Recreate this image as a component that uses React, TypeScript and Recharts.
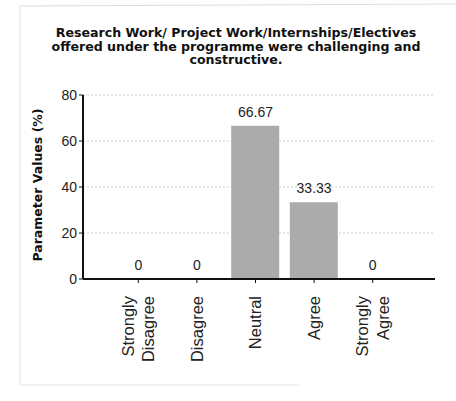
import React from "react";
import { ComposedChart, Bar, Line, XAxis, YAxis, CartesianGrid, LabelList } from "recharts";

const categories = ["Strongly Disagree", "Disagree", "Neutral", "Agree", "Strongly Agree"];
const values = [0, 0, 66.67, 33.33, 0];
const yTicks = [0, 20, 40, 60, 80];
const titleLines = [
  "Research Work/ Project Work/Internships/Electives",
  "offered under the programme were challenging and",
  "constructive.",
];

const data = categories.map((c, i) => ({ name: c, value: values[i] }));

const CatTick = (props: any) => {
  const { x, y, payload } = props;
  const words = String(payload.value).split(" ");
  const lines = words.length > 1 ? words : [payload.value];
  const first = lines.length > 1 ? -0.28 : 0.35;
  return (
    <g transform={`translate(${x},${y + 11})`}>
      <text
        transform="rotate(-90)"
        textAnchor="end"
        fontFamily="Liberation Sans, Arial, sans-serif"
        fontSize={16.5}
        fill="#222"
      >
        {lines.map((l: string, i: number) => (
          <tspan key={i} x={0} dy={i === 0 ? `${first}em` : "1.25em"}>
            {l}
          </tspan>
        ))}
      </text>
    </g>
  );
};

const fmt = (v: any) => (v === 0 ? "0" : Number(v).toFixed(2));

export default function App() {
  return (
    <div style={{ position: "absolute", left: 0, top: 0, width: 456, height: 401, background: "#fff" }}>
      <svg style={{ position: "absolute", left: 0, top: 0 }} width={456} height={401}>
        <line x1={20} y1={6} x2={456} y2={4} stroke="#ddd" strokeWidth={1} />
        <line x1={20} y1={6} x2={20} y2={385} stroke="#e2e2e2" strokeWidth={1} />
        <line x1={20} y1={385} x2={300} y2={385} stroke="#e6e6e6" strokeWidth={1} />
        {titleLines.map((t, i) => (
          <text
            key={i}
            x={236}
            y={37 + i * 13.5}
            textAnchor="middle"
            fontFamily="DejaVu Sans, Verdana, sans-serif"
            fontWeight="bold"
            fontSize={12.6}
            fill="#111"
          >
            {t}
          </text>
        ))}
        <text
          transform="translate(42,185) rotate(-90)"
          textAnchor="middle"
          fontFamily="DejaVu Sans, Verdana, sans-serif"
          fontWeight="bold"
          fontSize={12.5}
          fill="#111"
        >
          Parameter Values (%)
        </text>
      </svg>
      <div style={{ position: "absolute", left: 0, top: 0 }}>
        <ComposedChart
          width={456}
          height={401}
          data={data}
          margin={{ top: 95, right: 21, bottom: 0, left: 0 }}
          barCategoryGap={0}
        >
          <CartesianGrid vertical={false} stroke="#cfcfcf" strokeDasharray="2 2" />
          <XAxis
            dataKey="name"
            height={122}
            padding={{ left: 26, right: 33 }}
            axisLine={{ stroke: "#111", strokeWidth: 2 }}
            tickLine={{ stroke: "#111" }}
            tickSize={4}
            interval={0}
            tick={<CatTick />}
          />
          <YAxis
            width={83}
            domain={[0, 80]}
            ticks={yTicks}
            axisLine={{ stroke: "#111", strokeWidth: 2 }}
            tickLine={{ stroke: "#111" }}
            tickSize={4}
            tick={{ fontFamily: "Liberation Sans, Arial, sans-serif", fontSize: 14, fill: "#222" }}
          />
          <Bar dataKey="value" fill="#ababab" barSize={48} isAnimationActive={false} />
          <Line
            dataKey="value"
            stroke="none"
            dot={false}
            activeDot={false}
            isAnimationActive={false}
          >
            <LabelList
              dataKey="value"
              position="top"
              offset={9}
              formatter={fmt}
              style={{ fontFamily: "Liberation Sans, Arial, sans-serif", fontSize: 14, fill: "#222" }}
            />
          </Line>
        </ComposedChart>
      </div>
    </div>
  );
}
